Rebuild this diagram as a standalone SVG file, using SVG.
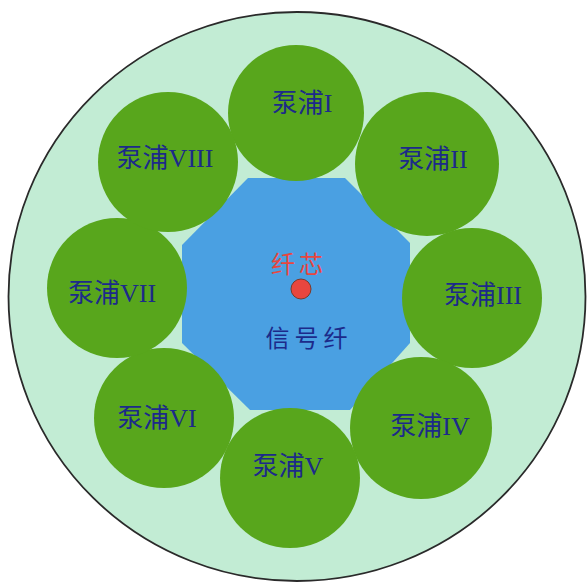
<svg xmlns="http://www.w3.org/2000/svg" width="588" height="583" viewBox="0 0 588 583">
<style>
.pump{fill:#58a61c}
.lbl{font-family:"Liberation Serif","Noto Sans CJK SC",serif;font-size:26px;fill:#1c2a8a;text-anchor:middle}
.core{font-family:"Noto Sans CJK SC",sans-serif;font-size:24px;text-anchor:middle}
</style>
<rect width="588" height="583" fill="#ffffff"/>
<g id="cable">
<ellipse cx="297" cy="296.5" rx="288.5" ry="284.5" fill="#c2ecd4" stroke="#2a2a2a" stroke-width="1.8"/>
</g>
<g id="signal-fiber">
<polygon points="248,178 345,178 410,243 410,343 350,410 250,410 182,343 182,245" fill="#4aa0e2"/>
<text class="core" x="309" y="347" fill="#1c2a8a" letter-spacing="5">信号纤</text>
</g>
<g id="fiber-core">
<circle cx="301" cy="289" r="10" fill="#e8463e" stroke="#7a3a2a" stroke-width="1"/>
<text class="core" x="299" y="273" fill="#e8463e" letter-spacing="4">纤芯</text>
</g>
<g id="pump1"><circle class="pump" cx="296" cy="113" r="68"/><text class="lbl" x="302" y="112">泵浦I</text></g>
<g id="pump2"><circle class="pump" cx="427" cy="164" r="72"/><text class="lbl" x="433" y="168">泵浦II</text></g>
<g id="pump3"><circle class="pump" cx="472" cy="298" r="70"/><text class="lbl" x="483" y="304">泵浦III</text></g>
<g id="pump4"><circle class="pump" cx="421" cy="428" r="71"/><text class="lbl" x="430" y="435">泵浦IV</text></g>
<g id="pump5"><circle class="pump" cx="290" cy="478" r="70"/><text class="lbl" x="288" y="475">泵浦V</text></g>
<g id="pump6"><circle class="pump" cx="164" cy="418" r="70"/><text class="lbl" x="157" y="427">泵浦VI</text></g>
<g id="pump7"><circle class="pump" cx="117" cy="288" r="70"/><text class="lbl" x="112" y="302">泵浦VII</text></g>
<g id="pump8"><circle class="pump" cx="168" cy="162" r="70"/><text class="lbl" x="165" y="167">泵浦VIII</text></g>
<g id="connectors"/>
</svg>
